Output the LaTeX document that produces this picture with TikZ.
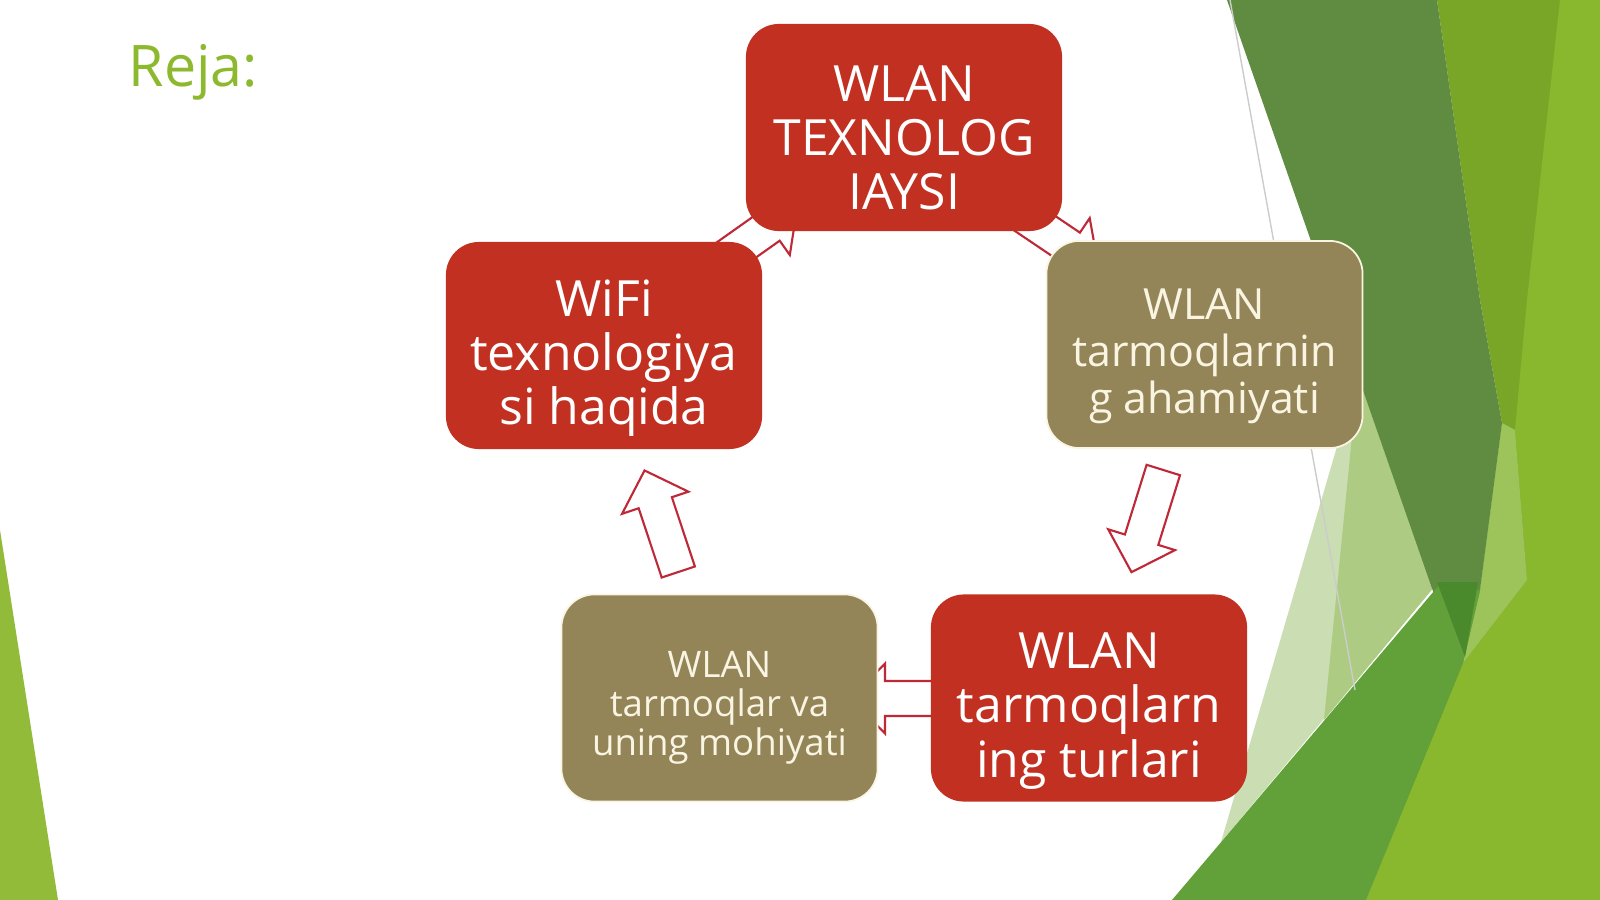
\documentclass[tikz,border=0pt]{standalone}
\usepackage{fontspec}
\setmainfont{Open Sans}
\usetikzlibrary{positioning}

\definecolor{rejagreen}{RGB}{141,185,46}
\definecolor{boxred}{RGB}{193,48,33}
\definecolor{boxolive}{RGB}{147,133,87}
\definecolor{olivetext}{RGB}{250,245,226}
\definecolor{arrowred}{RGB}{190,40,55}
\definecolor{facetdark}{RGB}{95,140,64}
\definecolor{facetyellow}{RGB}{122,166,40}
\definecolor{facetbright}{RGB}{137,183,46}
\definecolor{facetsliver}{RGB}{156,196,90}
\definecolor{facetpale}{RGB}{203,221,178}
\definecolor{facetmidpale}{RGB}{173,203,130}
\definecolor{facetmid}{RGB}{98,160,58}
\definecolor{facetdeep}{RGB}{75,138,44}
\definecolor{facetleft}{RGB}{147,187,58}

\begin{document}
\begin{tikzpicture}[
       x=0.01cm, y=-0.01cm,
       redbox/.style={
         rectangle,
         rounded corners=0.33cm,
         fill=boxred,
         minimum width=3.16cm,
         minimum height=2.07cm,
         inner sep=0pt
       },
       olivebox/.style={
         redbox,
         fill=boxolive,
         draw=olivetext,
         line width=0.5pt
       },
       redcaption/.style={
         align=center,
         inner sep=0pt,
         text=white,
         font=\fontsize{14.2}{15.4}\selectfont
       },
       olivecaption/.style={
         redcaption,
         text=olivetext
       },
       arrowline/.style={
         draw=arrowred,
         fill=white,
         line width=0.6pt,
         line join=miter
       },
       blockarrow/.pic={
         \draw[arrowline] (0,-17.5) -- (73,-17.5) -- (73,-35) -- (107,0)
           -- (73,35) -- (73,17.5) -- (0,17.5) -- cycle;
       }
     ]

       \useasboundingbox (0,0) rectangle (1600,900);
       \fill[white] (0,0) rectangle (1600,900);

       \fill[facetyellow] (1437,0) -- (1600,0) -- (1600,900) -- (1366,900)
         -- (1465,655) -- (1480,590) -- (1502,423) -- (1480,300) -- cycle;
       \fill[facetbright] (1560,0) -- (1600,0) -- (1600,900) -- (1366,900)
         -- (1463,663) -- (1527,580) -- (1515,430) -- (1527,300) -- cycle;
       \fill[facetsliver] (1502,423) -- (1515,430) -- (1527,580) -- (1463,663)
         -- (1465,655) -- (1480,590) -- cycle;
       \fill[facetpale] (1358,375) -- (1434,587) -- (1221,842) -- cycle;
       \fill[facetmidpale] (1358,375) -- (1434,587) -- (1324,720) -- cycle;
       \fill[facetdark] (1227,0) -- (1437,0) -- (1480,300) -- (1502,423)
         -- (1480,590) -- (1465,655) -- (1450,640) -- cycle;
       \fill[facetmid] (1172,900) -- (1440,584) -- (1480,590) -- (1463,663)
         -- (1366,900) -- cycle;
       \fill[facetdeep] (1437,582) -- (1478,582) -- (1465,657) -- cycle;
       \fill[facetleft] (0,530) -- (58,900) -- (0,900) -- cycle;
       \draw[black!20, line width=0.4pt] (1230,0) -- (1355,690);

       \coordinate (t1) at (1009.6,206.3);
       \coordinate (t2) at (1163.3,470);
       \coordinate (t3) at (958,698.5);
       \coordinate (t4) at (678.3,572);
       \coordinate (t5) at (710,268.6);

       \pic[rotate=-34] at (t1) {blockarrow};
       \pic[rotate=-107.3] at (t2) {blockarrow};
       \pic[rotate=180] at (t3) {blockarrow};
       \pic[rotate=108.4] at (t4) {blockarrow};
       \pic[rotate=35.3] at (t5) {blockarrow};

       \node (wlan) at (904,127.5) [redbox] {};
       \node (ahamiyat) at (1204.5,344.5) [olivebox] {};
       \node (turlar) at (1089,698) [redbox] {};
       \node (mohiyat) at (719.5,698) [olivebox] {};
       \node (wifi) at (604,345.5) [redbox] {};

       \node (wlantext) at ([yshift=-0.10cm]wlan.center) [redcaption]
         {WLAN\\TEXNOLOG\\IAYSI};
       \node (ahamiyattext) at ([yshift=-0.12cm]ahamiyat.center) [olivecaption,
         font=\fontsize{12.2}{13.3}\selectfont] {WLAN\\tarmoqlarnin\\g ahamiyati};
       \node (turlartext) at ([yshift=-0.13cm]turlar.center) [redcaption]
         {WLAN\\tarmoqlarn\\ing turlari};
       \node (mohiyattext) at ([yshift=-0.10cm]mohiyat.center) [olivecaption,
         font=\fontsize{10.4}{11.1}\selectfont] {WLAN\\tarmoqlar va\\uning mohiyati};
       \node (wifitext) at ([yshift=-0.13cm]wifi.center) [redcaption]
         {WiFi\\texnologiya\\si haqida};

       \node (reja) at (128,87) [anchor=base west, inner sep=0pt, text=rejagreen,
         font=\fontsize{16.3}{19}\selectfont] {Reja:};

\end{tikzpicture}
\end{document}
